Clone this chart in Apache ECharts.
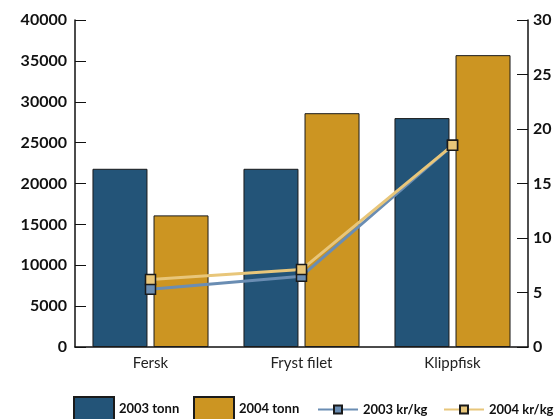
<!DOCTYPE html>
<html><head><meta charset="utf-8">
<script src="https://cdn.jsdelivr.net/npm/echarts@6/dist/echarts.min.js"></script>
<style>html,body{margin:0;padding:0;background:#fff}#c{width:558px;height:419px}</style>
</head><body><div id="c"></div>
<script>
const categories = ['Fersk', 'Fryst filet', 'Klippfisk'];
const tonn2003 = [21800, 21800, 28000];
const tonn2004 = [16100, 28600, 35700];
const krkg2003 = [5.3, 6.5, 18.5];
const krkg2004 = [6.2, 7.1, 18.5];
const leftTicks = [0, 5000, 10000, 15000, 20000, 25000, 30000, 35000, 40000];
const rightTicks = [0, 5, 10, 15, 20, 25, 30];
const seriesNames = ['2003 tonn', '2004 tonn', '2003 kr/kg', '2004 kr/kg'];

const chart = echarts.init(document.getElementById('c'));
const axisFont = {fontFamily: 'Lato', fontWeight: 'bold', fontSize: 16, color: '#111'};
const legendText = {fontFamily: 'Lato', fontWeight: 'bold', fontSize: 13, color: '#111'};
const legendLefts = [73, 193, 317, 443];
const legends = seriesNames.map((n, i) => i < 2 ? {
  left: legendLefts[i], top: 396, padding: 0, itemWidth: 40, itemHeight: 24,
  icon: 'rect', textStyle: legendText, data: [n]
} : {
  left: legendLefts[i], top: 403, padding: 0, itemWidth: 40, itemHeight: 10,
  textStyle: legendText, data: [n]
});
chart.setOption({
  animation: false,
  grid: {left: 75, right: 30, top: 20, bottom: 72},
  legend: legends,
  xAxis: {
    type: 'category', data: categories,
    axisLine: {lineStyle: {color: '#111', width: 1.5}},
    axisTick: {inside: true, length: 8, lineStyle: {color: '#111'}},
    axisLabel: {fontFamily: 'Lato', fontSize: 15, color: '#222', margin: 9}
  },
  yAxis: [{
    type: 'value', min: leftTicks[0], max: leftTicks[leftTicks.length - 1], interval: 5000,
    axisLine: {show: true, lineStyle: {color: '#111', width: 1.5}},
    axisTick: {show: true, inside: true, length: 11, lineStyle: {color: '#111'}},
    splitLine: {show: false},
    axisLabel: Object.assign({margin: 8, formatter: v => String(v)}, axisFont)
  }, {
    type: 'value', min: rightTicks[0], max: rightTicks[rightTicks.length - 1], interval: 5,
    position: 'right',
    axisLine: {show: true, lineStyle: {color: '#111', width: 1.5}},
    axisTick: {show: true, inside: true, length: 11, lineStyle: {color: '#111'}},
    splitLine: {show: false},
    axisLabel: Object.assign({margin: 5, formatter: v => String(v)}, axisFont)
  }],
  series: [{
    name: seriesNames[0], type: 'bar', data: tonn2003, barWidth: 55, barGap: '11%',
    itemStyle: {color: '#235478', borderColor: '#1a1a1a', borderWidth: 1}
  }, {
    name: seriesNames[1], type: 'bar', data: tonn2004, barWidth: 55,
    itemStyle: {color: '#CC9522', borderColor: '#1a1a1a', borderWidth: 1}
  }, {
    name: seriesNames[2], type: 'line', yAxisIndex: 1, data: krkg2003,
    symbol: 'rect', symbolSize: 10,
    lineStyle: {color: '#6a8db3', width: 3},
    itemStyle: {color: '#6a8db3', borderColor: '#1a1a1a', borderWidth: 1.5}
  }, {
    name: seriesNames[3], type: 'line', yAxisIndex: 1, data: krkg2004,
    symbol: 'rect', symbolSize: 10,
    lineStyle: {color: '#e8c67a', width: 3},
    itemStyle: {color: '#e8c67a', borderColor: '#1a1a1a', borderWidth: 1.5}
  }]
});
</script></body></html>
